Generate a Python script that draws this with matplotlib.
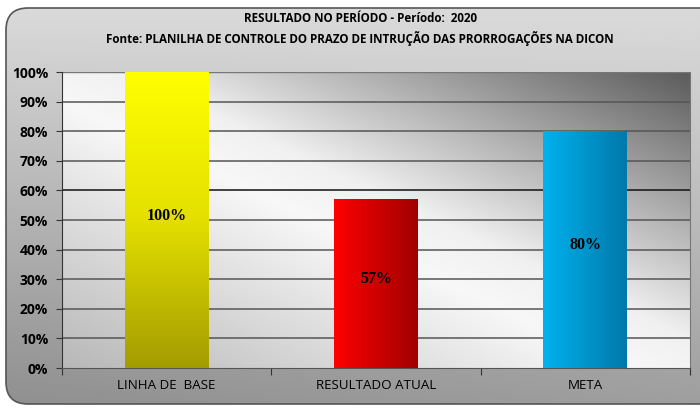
import numpy as np
import matplotlib.pyplot as plt
from matplotlib.patches import FancyBboxPatch
from matplotlib.colors import LinearSegmentedColormap

categorias = ["LINHA DE  BASE", "RESULTADO ATUAL", "META"]
valores = [100, 57, 80]
rotulos = ["100%", "57%", "80%"]
titulo = "RESULTADO NO PERÍODO - Período:  2020\nFonte: PLANILHA DE CONTROLE DO PRAZO DE INTRUÇÃO DAS PRORROGAÇÕES NA DICON"

W, H = 700, 408
fig = plt.figure(figsize=(W / 100, H / 100), dpi=100)
fig.patch.set_facecolor("white")

# moldura externa arredondada com degradê
bg = fig.add_axes([0, 0, 1, 1])
bg.set_xlim(0, W)
bg.set_ylim(0, H)
bg.axis("off")
yy, xx = np.mgrid[0:1:200j, 0:1:200j]
outer = 0.62 + 0.24 * yy - 0.06 * (1 - xx) * (1 - yy)
im = bg.imshow(outer, extent=[0, W, 0, H], origin="lower", cmap="gray",
               vmin=0, vmax=1, aspect="auto", zorder=0)
frame = FancyBboxPatch((6, 4), W + 20, H - 12,
                       boxstyle="round,pad=0,rounding_size=22",
                       facecolor="none", edgecolor="#555555", lw=1.2, zorder=1)
bg.add_patch(frame)
im.set_clip_path(frame)

bg.text(360, H - 29, titulo, ha="center", va="center", fontsize=8.4,
        fontweight="bold", family="Open Sans", linespacing=1.45)

# área do gráfico
x0, x1, y0, y1 = 62, 690, 40, 336
ax = fig.add_axes([x0 / W, y0 / H, (x1 - x0) / W, (y1 - y0) / H])
ax.set_xlim(-0.5, len(categorias) - 0.5)
ax.set_ylim(0, 100)

d = (xx + yy) / 2
prof = np.interp(d, [0, 0.45, 0.55, 1], [0.72, 0.97, 0.94, 0.36])
ax.imshow(prof, extent=[-0.5, len(categorias) - 0.5, 0, 100], origin="lower",
          cmap="gray", vmin=0, vmax=1, aspect="auto", zorder=0)

for v in range(10, 100, 10):
    ax.axhline(v, color="#111111" if v == 60 else "#555555",
               lw=1.1, zorder=1)
ax.axhline(100, color="#777777", lw=1.0, zorder=1)

grad_cores = [
    ("v", ["#a39c00", "#e4df00", "#ffff00"]),
    ("h", ["#ff0000", "#a00000"]),
    ("h", ["#00b2ee", "#0078aa"]),
]
x = np.arange(len(categorias))
bars = ax.bar(x, valores, width=0.4, color="none", zorder=2)
g = np.linspace(0, 1, 256)
for b, (dirc, cores) in zip(bars, grad_cores):
    cmap = LinearSegmentedColormap.from_list("c", cores)
    arr = g.reshape(-1, 1) if dirc == "v" else g.reshape(1, -1)
    bx, bw, bh = b.get_x(), b.get_width(), b.get_height()
    img = ax.imshow(arr, extent=[bx, bx + bw, 0, bh], origin="lower",
                    cmap=cmap, aspect="auto", zorder=3)
    img.set_clip_path(b)

for xi, v, r in zip(x, valores, rotulos):
    ax.text(xi, v / 2 + 1.5, r, ha="center", va="center", fontsize=11.5,
            fontweight="bold", family="Liberation Serif", color="black", zorder=4)

ax.set_yticks(range(0, 101, 10))
ax.set_yticklabels([f"{v}%" for v in range(0, 101, 10)], fontsize=10,
                   fontweight="bold", family="Open Sans")
ax.set_xticks([-0.5, 0.5, 1.5, 2.5])
ax.set_xticklabels([])
ax.tick_params(axis="x", length=5, color="#333333", direction="out")
ax.tick_params(axis="y", length=4, color="#333333", pad=6)
for xi, c in zip(x, categorias):
    ax.text(xi, -6.0, c, ha="center", va="center", fontsize=9.6,
            family="Open Sans", transform=ax.transData, clip_on=False)

for s in ["top", "right"]:
    ax.spines[s].set_visible(False)
ax.spines["left"].set_color("#333333")
ax.spines["bottom"].set_color("#555555")
ax.spines["right"].set_visible(True)
ax.spines["right"].set_color("#777777")

fig.savefig("out.png", dpi=100)
